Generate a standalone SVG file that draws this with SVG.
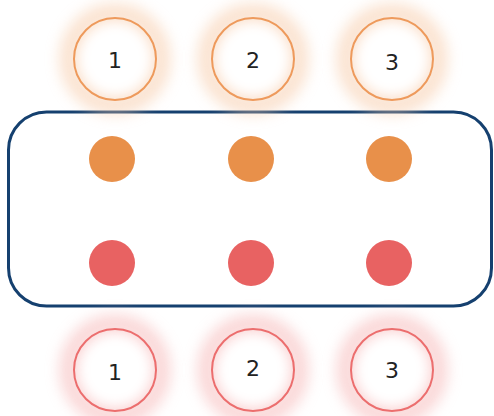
<svg xmlns="http://www.w3.org/2000/svg" width="494" height="416" viewBox="0 0 494 416">
<style>
.glow-o{fill:none;stroke:#f7c9a6;stroke-width:22;opacity:0.5;filter:url(#blur)}
.glow-r{fill:none;stroke:#f6b4b4;stroke-width:22;opacity:0.5;filter:url(#blur)}
.ring-o{fill:none;stroke:#ee9a5c;stroke-width:2}
.ring-r{fill:none;stroke:#ec6e6e;stroke-width:2}
.inner{fill:#ffffff;filter:url(#blur)}
.lbl{font-family:"DejaVu Sans","Liberation Sans",sans-serif;font-size:22px;fill:#222222;text-anchor:middle;dominant-baseline:central}
.dot-o{fill:#e8904a}
.dot-r{fill:#e86262}
.box{fill:#ffffff;stroke:#15406f;stroke-width:3}
</style>
<defs>
<filter id="blur" x="-50%" y="-50%" width="200%" height="200%"><feGaussianBlur stdDeviation="7"/></filter>
</defs>
<rect width="494" height="416" fill="#ffffff"/>
<g id="container"><rect class="box" x="8.5" y="112" width="483" height="194" rx="38"/></g>
<g id="top-1"><circle class="glow-o" cx="115" cy="59" r="45"/><circle class="inner" cx="115" cy="59" r="32"/><circle class="ring-o" cx="115" cy="59" r="41"/><text class="lbl" x="115" y="60">1</text></g>
<g id="top-2"><circle class="glow-o" cx="253" cy="59" r="45"/><circle class="inner" cx="253" cy="59" r="32"/><circle class="ring-o" cx="253" cy="59" r="41"/><text class="lbl" x="253" y="60">2</text></g>
<g id="top-3"><circle class="glow-o" cx="392" cy="59" r="45"/><circle class="inner" cx="392" cy="59" r="32"/><circle class="ring-o" cx="392" cy="59" r="41"/><text class="lbl" x="392" y="62">3</text></g>
<g id="dot-o-1"><circle class="dot-o" cx="112" cy="159" r="23"/></g>
<g id="dot-o-2"><circle class="dot-o" cx="251" cy="159" r="23"/></g>
<g id="dot-o-3"><circle class="dot-o" cx="389" cy="159" r="23"/></g>
<g id="dot-r-1"><circle class="dot-r" cx="112" cy="263" r="23"/></g>
<g id="dot-r-2"><circle class="dot-r" cx="251" cy="263" r="23"/></g>
<g id="dot-r-3"><circle class="dot-r" cx="389" cy="263" r="23"/></g>
<g id="bottom-1"><circle class="glow-r" cx="115" cy="370" r="45"/><circle class="inner" cx="115" cy="370" r="32"/><circle class="ring-r" cx="115" cy="370" r="41"/><text class="lbl" x="115" y="372">1</text></g>
<g id="bottom-2"><circle class="glow-r" cx="253" cy="370" r="45"/><circle class="inner" cx="253" cy="370" r="32"/><circle class="ring-r" cx="253" cy="370" r="41"/><text class="lbl" x="253" y="368">2</text></g>
<g id="bottom-3"><circle class="glow-r" cx="392" cy="370" r="45"/><circle class="inner" cx="392" cy="370" r="32"/><circle class="ring-r" cx="392" cy="370" r="41"/><text class="lbl" x="392" y="370">3</text></g>
<g id="connectors"></g>
</svg>
